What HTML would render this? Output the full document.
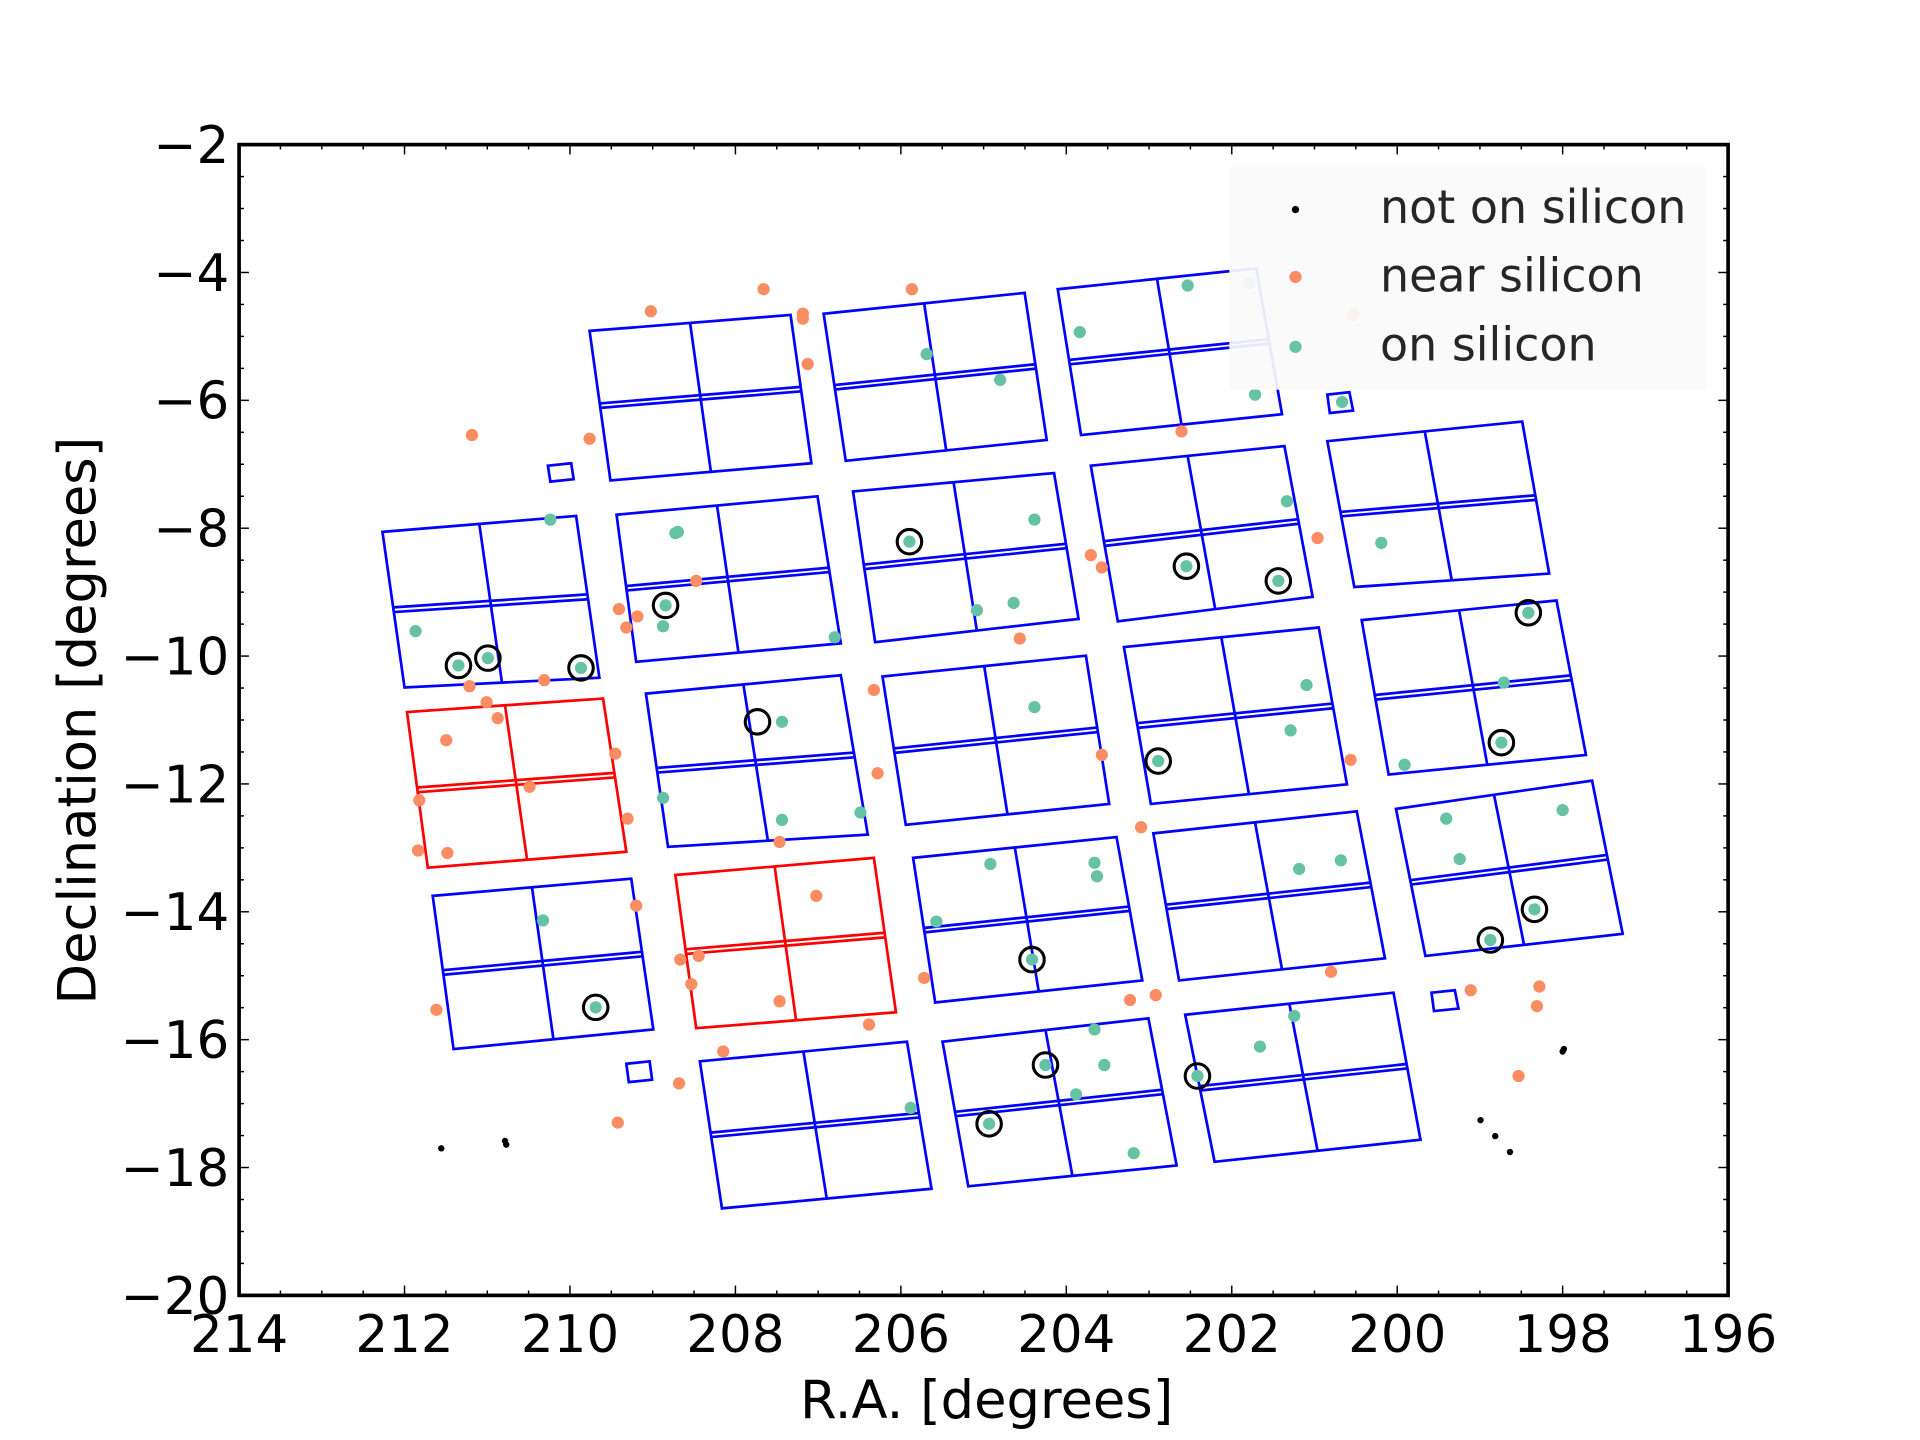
<!DOCTYPE html>
<html><head><meta charset="utf-8"><style>
html,body{margin:0;padding:0;background:#fff;}
svg{display:block;}
text{font-family:"DejaVu Sans","Liberation Sans",sans-serif;}
</style></head><body>
<svg id="s" width="1920" height="1440" viewBox="0 0 1566.5 1175" xmlns="http://www.w3.org/2000/svg">
<rect width="1570" height="1180" fill="#fff"/>
<g id="mods" fill="none" stroke-width="2.2"></g>
<g id="pts"></g>
<g id="legend">
<rect x="1003" y="136" width="389" height="182" fill="#fafafa" fill-opacity="0.93"/>
<circle cx="1057" cy="171" r="3" fill="#000"/>
<circle cx="1057" cy="226" r="5" fill="#fc8d62"/>
<circle cx="1057" cy="283" r="5" fill="#66c2a5"/>
<text x="1126" y="182" font-size="37.5" fill="#262626">not on silicon</text>
<text x="1126" y="238" font-size="37.5" fill="#262626">near silicon</text>
<text x="1126" y="294" font-size="37.5" fill="#262626">on silicon</text>
</g>
<g id="axes"></g>
</svg>
<script>
const NS="http://www.w3.org/2000/svg";
function el(p,t,a,txt){const e=document.createElementNS(NS,t);for(const k in a)e.setAttribute(k,a[k]);if(txt!==undefined)e.textContent=txt;p.appendChild(e);return e;}
const mods=document.getElementById('mods');
const M=[
[[481,270],[645,257],[662,378],[498,392],'b'],
[[672,256],[836,239],[854,359],[690,376],'b'],
[[863,236],[1025,219],[1046,338],[882,355],'b'],
[[312,434],[470,421],[489,553],[330,561],'b'],
[[503,420],[667,405],[686,525],[519,540],'b'],
[[696,401],[860,386],[880,505],[714,524],'b'],
[[890,380],[1048,364],[1071,487],[912,507],'b'],
[[1083,360],[1242,344],[1264,468],[1105,479],'b'],
[[332,581],[492,570],[511,695],[349,708],'r'],
[[527,566],[686,551],[708,681],[545,691],'b'],
[[720,552],[886,535],[905,656],[739,673],'b'],
[[917,528],[1076,512],[1099,640],[939,656],'b'],
[[1111,506],[1270,490],[1294,616],[1133,632],'b'],
[[353,731],[515,717],[533,840],[370,856],'b'],
[[551,714],[713,700],[731,826],[568,839],'r'],
[[745,700],[911,683],[932,800],[763,818],'b'],
[[941,680],[1107,662],[1130,782],[962,800],'b'],
[[1139,660],[1299,637],[1324,762],[1163,780],'b'],
[[571,866],[740,850],[760,970],[589,986],'b'],
[[769,850],[937,831],[960,951],[790,968],'b'],
[[967,828],[1137,810],[1159,930],[991,948],'b']];
const L=(a,b,t)=>[a[0]+(b[0]-a[0])*t,a[1]+(b[1]-a[1])*t];
M.forEach(m=>{const [A,B,C,D,c]=m;const col=c=='r'?'#f00':'#00f';
 el(mods,'polygon',{points:[A,B,C,D].map(p=>p.join(',')).join(' '),stroke:col});
 const l1=L(A,D,0.485),r1=L(B,C,0.485),l2=L(A,D,0.515),r2=L(B,C,0.515);
 el(mods,'line',{x1:l1[0],y1:l1[1],x2:r1[0],y2:r1[1],stroke:col});
 el(mods,'line',{x1:l2[0],y1:l2[1],x2:r2[0],y2:r2[1],stroke:col});
 const t1=L(A,B,0.5),b1=L(D,C,0.5);
 el(mods,'line',{x1:t1[0],y1:t1[1],x2:b1[0],y2:b1[1],stroke:col});
});
[[447,380,466,378,468,391,449,393],[1083,322,1101,320,1104,335,1085,337],[511,868,530,866,532,881,513,883],[1168,810,1187,808,1190,823,1170,825]].forEach(q=>{
 el(mods,'polygon',{points:q.join(' '),stroke:'#00f'});});
const pts=document.getElementById('pts');
const O=[[531,254],[623,236],[655,256],[655,260],[744,236],[659,297],[385,355],[481,358],[964,352],[1104,257],[890,453],[899,463],[1075,439],[568,474],[505,497],[520,503],[511,512],[832,521],[713,563],[397,573],[406,586],[383,560],[444,555],[364,604],[502,615],[716,631],[432,642],[899,616],[342,653],[512,668],[341,694],[365,696],[931,675],[636,687],[666,731],[519,739],[555,783],[570,780],[564,803],[754,798],[636,817],[709,836],[922,816],[943,812],[1086,793],[1200,808],[1256,805],[1254,821],[356,824],[590,858],[554,884],[1239,878],[504,916],[1102,620]];
const G=[[969,233],[1019,231],[881,271],[756,289],[816,310],[1024,322],[1095,328],[449,424],[551,435],[553,434],[844,424],[742,442],[1050,409],[968,462],[1127,443],[1043,474],[797,498],[827,492],[543,494],[541,511],[681,520],[339,515],[374,543],[398,537],[474,545],[844,577],[1066,559],[1227,557],[1053,596],[1247,500],[638,589],[1225,606],[945,621],[1146,624],[541,651],[638,669],[702,663],[1180,668],[1275,661],[808,705],[893,704],[895,715],[1060,709],[1094,702],[1191,701],[443,751],[764,752],[1252,742],[842,783],[1216,767],[486,822],[1056,829],[893,840],[1028,854],[901,869],[853,869],[977,878],[878,893],[743,904],[807,917],[925,941]];
O.forEach(p=>el(pts,'circle',{cx:p[0],cy:p[1],r:5,fill:'#fc8d62'}));
G.forEach(p=>el(pts,'circle',{cx:p[0],cy:p[1],r:5,fill:'#66c2a5'}));
[[374,543],[398,537],[474,545],[543,494],[742,442],[968,462],[1043,474],[1247,500],[618,589],[945,621],[1225,606],[1252,742],[1216,767],[842,783],[486,822],[853,869],[977,878],[807,917]].forEach(p=>el(pts,'circle',{cx:p[0],cy:p[1],r:10,fill:'none',stroke:'#000','stroke-width':2.5}));
[[360,937],[412,931],[413,934],[1275,858],[1276,856],[1208,914],[1220,927],[1232,940]].forEach(p=>el(pts,'circle',{cx:p[0],cy:p[1],r:2.6,fill:'#000'}));
const ax=document.getElementById('axes');
const X0=195,X1=1410,Y0=118,Y1=1057;
const xp=v=>X0+(214-v)*(X1-X0)/18, yp=v=>Y0+(-2-v)*(Y1-Y0)/18;
for(let k=0;k<=36;k++){const v=214-k*0.5;const x=xp(v);const maj=k%4==0;const l=maj?8:4;
 el(ax,'line',{x1:x,y1:Y1,x2:x,y2:Y1-l,stroke:'#000','stroke-width':1.2});
 el(ax,'line',{x1:x,y1:Y0,x2:x,y2:Y0+l,stroke:'#000','stroke-width':1.2});
 if(maj)el(ax,'text',{x:x,y:1103,'font-size':42,'text-anchor':'middle',fill:'#000'},String(v));}
for(let k=0;k<=36;k++){const v=-2-k*0.5;const y=yp(v);const maj=k%4==0;const l=maj?8:4;
 el(ax,'line',{x1:X0,y1:y,x2:X0+l,y2:y,stroke:'#000','stroke-width':1.2});
 el(ax,'line',{x1:X1,y1:y,x2:X1-l,y2:y,stroke:'#000','stroke-width':1.2});
 if(maj)el(ax,'text',{x:187,y:y+15,'font-size':42,'text-anchor':'end',fill:'#000'},'\u2212'+String(-v));}
el(ax,'rect',{x:X0,y:Y0,width:X1-X0,height:Y1-Y0,fill:'none',stroke:'#000','stroke-width':3});
el(ax,'text',{x:805,y:1157,'font-size':43,'text-anchor':'middle',fill:'#000'},'R.A. [degrees]');
el(ax,'text',{x:78,y:588,'font-size':43,'text-anchor':'middle',fill:'#000',transform:'rotate(-90 78 588)'},'Declination [degrees]');
</script>
</body></html>
